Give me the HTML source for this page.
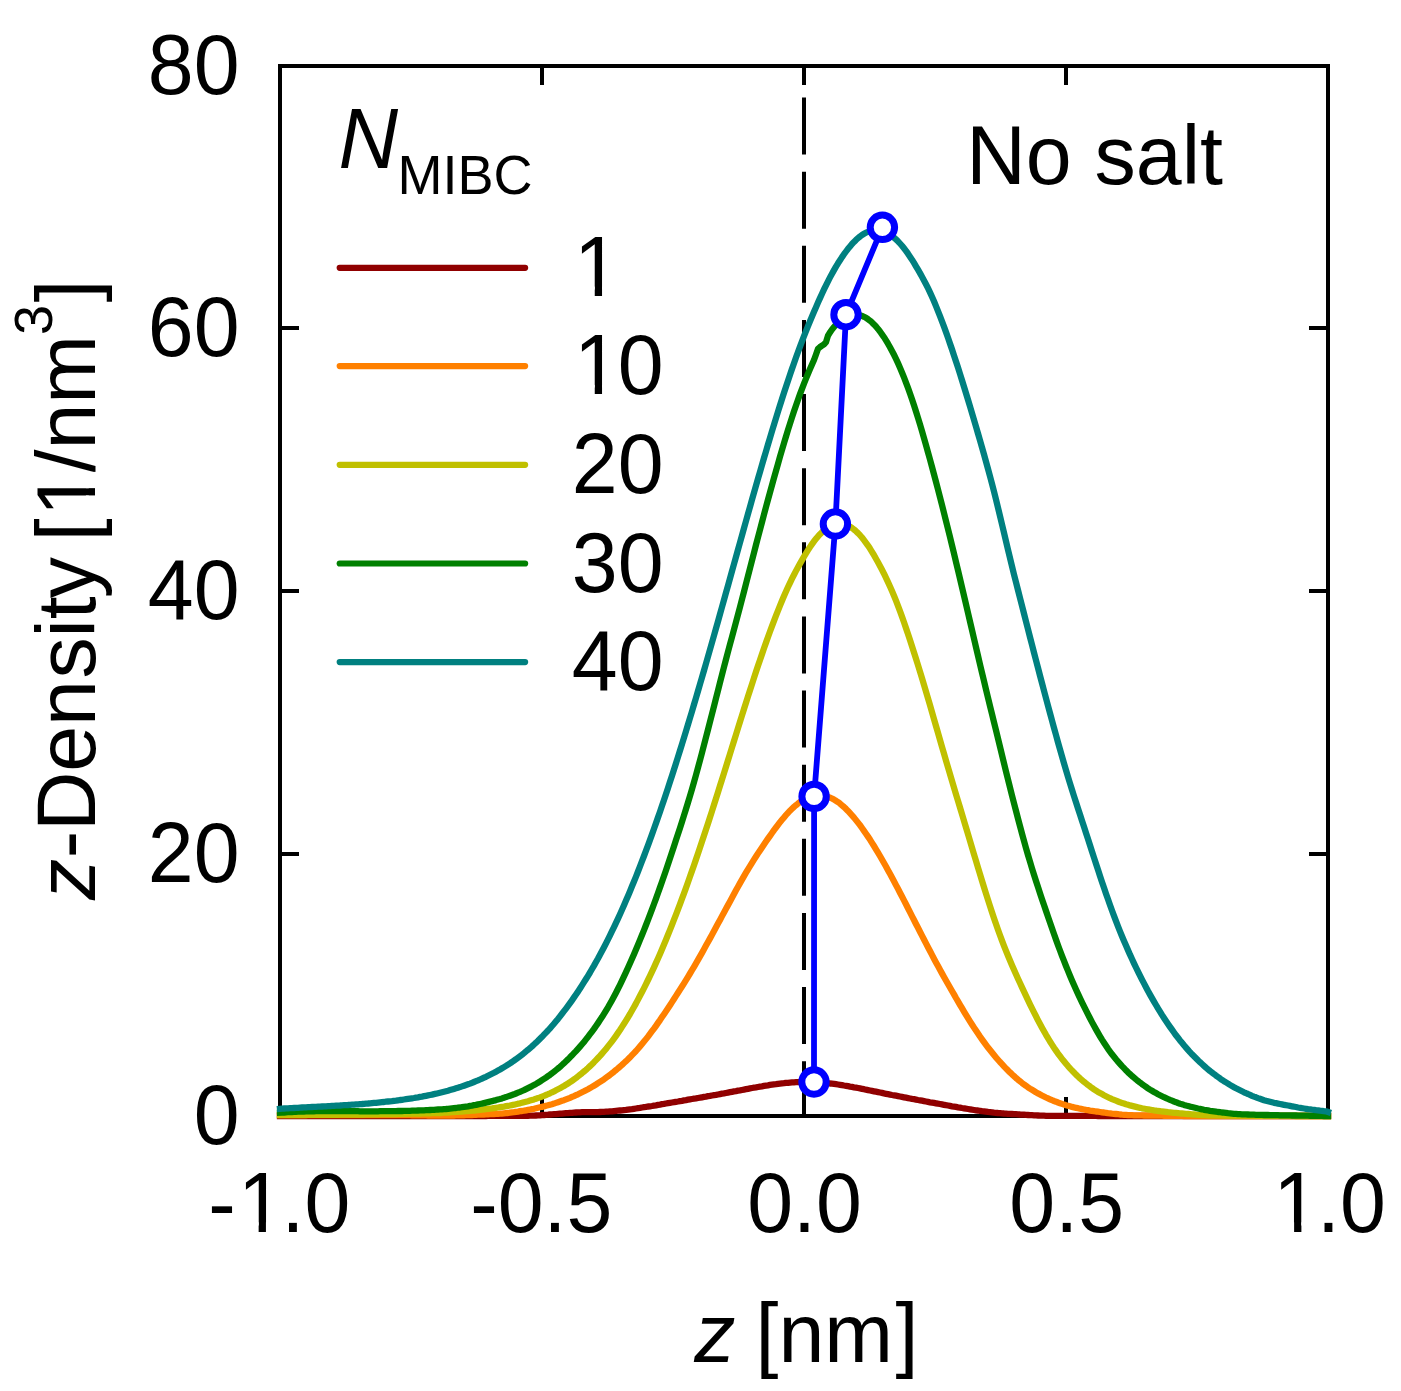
<!DOCTYPE html>
<html><head><meta charset="utf-8"><title>z-Density</title>
<style>
html,body{margin:0;padding:0;background:#fff;}
svg{display:block;}
text{font-family:"Liberation Sans",sans-serif;font-size:82.5px;fill:#000;font-kerning:none;}
.i{font-style:italic;}
.s{font-size:54px;}
</style></head><body>
<svg width="1401" height="1391" viewBox="0 0 1401 1391">
<rect width="1401" height="1391" fill="#fff"/>

<g stroke="#000" stroke-width="4" fill="none" stroke-linecap="butt">
<rect x="280" y="66" width="1048" height="1050"/>
<line x1="542" y1="66" x2="542" y2="85"/>
<line x1="542" y1="1116" x2="542" y2="1097"/>
<line x1="804" y1="66" x2="804" y2="85"/>
<line x1="804" y1="1116" x2="804" y2="1097"/>
<line x1="1066" y1="66" x2="1066" y2="85"/>
<line x1="1066" y1="1116" x2="1066" y2="1097"/>
<line x1="280" y1="328" x2="299" y2="328"/>
<line x1="1328" y1="328" x2="1309" y2="328"/>
<line x1="280" y1="591" x2="299" y2="591"/>
<line x1="1328" y1="591" x2="1309" y2="591"/>
<line x1="280" y1="854" x2="299" y2="854"/>
<line x1="1328" y1="854" x2="1309" y2="854"/>
<line x1="804" y1="97.5" x2="804" y2="1116" stroke-dasharray="57 17.13"/>
</g>
<g fill="none" stroke-width="6.3" stroke-linejoin="round" stroke-linecap="square">
<path stroke="#900000" d="M280.0 1116.0 L282.0 1116.0 L284.0 1116.0 L286.0 1116.0 L288.0 1116.0 L290.0 1116.0 L292.0 1116.0 L294.0 1116.0 L296.0 1116.0 L298.0 1116.0 L300.0 1116.0 L302.0 1116.0 L304.0 1116.0 L306.0 1116.0 L308.0 1116.0 L310.0 1116.0 L312.0 1116.0 L314.0 1116.0 L316.0 1116.0 L318.0 1116.0 L320.0 1116.0 L322.0 1116.0 L324.0 1116.0 L326.0 1116.0 L328.0 1116.0 L330.0 1116.0 L332.0 1116.0 L334.0 1116.0 L336.0 1116.0 L338.0 1116.0 L340.0 1116.0 L342.0 1116.0 L344.0 1116.0 L346.0 1116.0 L348.0 1116.0 L350.0 1116.0 L352.0 1116.0 L354.0 1116.0 L356.0 1116.0 L358.0 1116.0 L360.0 1116.0 L362.0 1116.0 L364.0 1116.0 L366.0 1116.0 L368.0 1116.0 L370.0 1116.0 L372.0 1116.0 L374.0 1116.0 L376.0 1116.0 L378.0 1116.0 L380.0 1116.0 L382.0 1116.0 L384.0 1116.0 L386.0 1116.0 L388.0 1116.0 L390.0 1116.0 L392.0 1116.0 L394.0 1116.0 L396.0 1116.0 L398.0 1116.0 L400.0 1116.0 L402.0 1116.0 L404.0 1116.0 L406.0 1116.0 L408.0 1116.0 L410.0 1116.0 L412.0 1116.0 L414.0 1116.0 L416.0 1116.0 L418.0 1116.0 L420.0 1116.0 L422.0 1116.0 L424.0 1116.0 L426.0 1116.0 L428.0 1116.0 L430.0 1116.0 L432.0 1116.0 L434.0 1116.0 L436.0 1116.0 L438.0 1116.0 L440.0 1116.0 L442.0 1116.0 L444.0 1116.0 L446.0 1116.0 L448.0 1116.0 L450.0 1116.0 L452.0 1116.0 L454.0 1116.0 L456.0 1116.0 L458.0 1116.0 L460.0 1116.0 L462.0 1116.0 L464.0 1116.0 L466.0 1116.0 L468.0 1116.0 L470.0 1116.0 L472.0 1116.0 L474.0 1116.0 L476.0 1116.0 L478.0 1116.0 L480.0 1116.0 L482.0 1116.0 L484.0 1116.0 L486.0 1116.0 L488.0 1115.9 L490.0 1115.9 L492.0 1115.9 L494.0 1115.9 L496.0 1115.9 L498.0 1115.9 L500.0 1115.9 L502.0 1115.9 L504.0 1115.9 L506.0 1115.9 L508.0 1115.9 L510.0 1115.9 L512.0 1115.9 L514.0 1115.9 L516.0 1115.8 L518.0 1115.8 L520.0 1115.8 L522.0 1115.8 L524.0 1115.8 L526.0 1115.8 L528.0 1115.8 L530.0 1115.7 L532.0 1115.7 L534.0 1115.6 L536.0 1115.5 L538.0 1115.4 L540.0 1115.3 L542.0 1115.1 L544.0 1115.0 L546.0 1114.8 L548.0 1114.7 L550.0 1114.5 L552.0 1114.3 L554.0 1114.2 L556.0 1114.1 L558.0 1113.9 L560.0 1113.7 L562.0 1113.6 L564.0 1113.4 L566.0 1113.2 L568.0 1113.1 L570.0 1112.9 L572.0 1112.8 L574.0 1112.6 L576.0 1112.5 L578.0 1112.4 L580.0 1112.3 L582.0 1112.2 L584.0 1112.2 L586.0 1112.1 L588.0 1112.1 L590.0 1112.1 L592.0 1112.1 L594.0 1112.1 L596.0 1112.1 L598.0 1112.1 L600.0 1112.0 L602.0 1111.9 L604.0 1111.8 L606.0 1111.7 L608.0 1111.6 L610.0 1111.4 L612.0 1111.3 L614.0 1111.1 L616.0 1110.9 L618.0 1110.7 L620.0 1110.5 L622.0 1110.3 L624.0 1110.1 L626.0 1109.9 L628.0 1109.6 L630.0 1109.3 L632.0 1109.1 L634.0 1108.8 L636.0 1108.5 L638.0 1108.2 L640.0 1107.9 L642.0 1107.5 L644.0 1107.2 L646.0 1106.9 L648.0 1106.5 L650.0 1106.3 L652.0 1106.0 L654.0 1105.6 L656.0 1105.3 L658.0 1104.9 L660.0 1104.6 L662.0 1104.2 L664.0 1103.9 L666.0 1103.5 L668.0 1103.1 L670.0 1102.8 L672.0 1102.5 L674.0 1102.2 L676.0 1101.8 L678.0 1101.5 L680.0 1101.1 L682.0 1100.8 L684.0 1100.4 L686.0 1100.1 L688.0 1099.7 L690.0 1099.3 L692.0 1099.0 L694.0 1098.7 L696.0 1098.4 L698.0 1098.0 L700.0 1097.7 L702.0 1097.3 L704.0 1096.9 L706.0 1096.6 L708.0 1096.2 L710.0 1095.9 L712.0 1095.5 L714.0 1095.2 L716.0 1094.9 L718.0 1094.5 L720.0 1094.1 L722.0 1093.7 L724.0 1093.4 L726.0 1093.0 L728.0 1092.6 L730.0 1092.2 L732.0 1091.8 L734.0 1091.4 L736.0 1091.1 L738.0 1090.7 L740.0 1090.4 L742.0 1090.0 L744.0 1089.6 L746.0 1089.2 L748.0 1088.8 L750.0 1088.4 L752.0 1088.0 L754.0 1087.7 L756.0 1087.4 L758.0 1087.0 L760.0 1086.6 L762.0 1086.3 L764.0 1085.9 L766.0 1085.6 L768.0 1085.3 L770.0 1084.9 L772.0 1084.6 L774.0 1084.3 L776.0 1084.1 L778.0 1083.8 L780.0 1083.6 L782.0 1083.4 L784.0 1083.2 L786.0 1082.9 L788.0 1082.8 L790.0 1082.6 L792.0 1082.4 L794.0 1082.3 L796.0 1082.2 L798.0 1082.1 L800.0 1082.0 L802.0 1082.0 L804.0 1081.9 L806.0 1081.9 L808.0 1081.9 L810.0 1082.0 L812.0 1082.0 L814.0 1082.1 L816.0 1082.2 L818.0 1082.3 L820.0 1082.5 L822.0 1082.6 L824.0 1082.8 L826.0 1083.0 L828.0 1083.2 L830.0 1083.5 L832.0 1083.7 L834.0 1083.9 L836.0 1084.2 L838.0 1084.5 L840.0 1084.8 L842.0 1085.1 L844.0 1085.5 L846.0 1085.8 L848.0 1086.2 L850.0 1086.6 L852.0 1086.9 L854.0 1087.3 L856.0 1087.6 L858.0 1088.0 L860.0 1088.4 L862.0 1088.8 L864.0 1089.2 L866.0 1089.7 L868.0 1090.1 L870.0 1090.5 L872.0 1090.9 L874.0 1091.3 L876.0 1091.7 L878.0 1092.1 L880.0 1092.5 L882.0 1092.9 L884.0 1093.4 L886.0 1093.8 L888.0 1094.2 L890.0 1094.6 L892.0 1095.0 L894.0 1095.3 L896.0 1095.7 L898.0 1096.1 L900.0 1096.5 L902.0 1096.9 L904.0 1097.3 L906.0 1097.7 L908.0 1098.1 L910.0 1098.5 L912.0 1098.9 L914.0 1099.2 L916.0 1099.6 L918.0 1100.0 L920.0 1100.3 L922.0 1100.7 L924.0 1101.1 L926.0 1101.5 L928.0 1101.9 L930.0 1102.3 L932.0 1102.6 L934.0 1102.9 L936.0 1103.3 L938.0 1103.7 L940.0 1104.0 L942.0 1104.4 L944.0 1104.8 L946.0 1105.2 L948.0 1105.5 L950.0 1105.9 L952.0 1106.3 L954.0 1106.6 L956.0 1106.9 L958.0 1107.3 L960.0 1107.6 L962.0 1108.0 L964.0 1108.3 L966.0 1108.7 L968.0 1109.0 L970.0 1109.3 L972.0 1109.7 L974.0 1110.0 L976.0 1110.3 L978.0 1110.5 L980.0 1110.8 L982.0 1111.1 L984.0 1111.3 L986.0 1111.6 L988.0 1111.9 L990.0 1112.1 L992.0 1112.3 L994.0 1112.6 L996.0 1112.8 L998.0 1113.0 L1000.0 1113.1 L1002.0 1113.3 L1004.0 1113.5 L1006.0 1113.6 L1008.0 1113.8 L1010.0 1113.9 L1012.0 1114.0 L1014.0 1114.1 L1016.0 1114.2 L1018.0 1114.3 L1020.0 1114.5 L1022.0 1114.6 L1024.0 1114.7 L1026.0 1114.9 L1028.0 1115.0 L1030.0 1115.1 L1032.0 1115.2 L1034.0 1115.3 L1036.0 1115.4 L1038.0 1115.5 L1040.0 1115.6 L1042.0 1115.6 L1044.0 1115.7 L1046.0 1115.8 L1048.0 1115.8 L1050.0 1115.8 L1052.0 1115.8 L1054.0 1115.8 L1056.0 1115.8 L1058.0 1115.8 L1060.0 1115.8 L1062.0 1115.8 L1064.0 1115.9 L1066.0 1115.9 L1068.0 1115.9 L1070.0 1115.9 L1072.0 1115.9 L1074.0 1115.9 L1076.0 1115.9 L1078.0 1115.9 L1080.0 1115.9 L1082.0 1115.9 L1084.0 1115.9 L1086.0 1115.9 L1088.0 1115.9 L1090.0 1115.9 L1092.0 1115.9 L1094.0 1115.9 L1096.0 1115.9 L1098.0 1116.0 L1100.0 1116.0 L1102.0 1116.0 L1104.0 1116.0 L1106.0 1116.0 L1108.0 1116.0 L1110.0 1116.0 L1112.0 1116.0 L1114.0 1116.0 L1116.0 1116.0 L1118.0 1116.0 L1120.0 1116.0 L1122.0 1116.0 L1124.0 1116.0 L1126.0 1116.0 L1128.0 1116.0 L1130.0 1116.0 L1132.0 1116.0 L1134.0 1116.0 L1136.0 1116.0 L1138.0 1116.0 L1140.0 1116.0 L1142.0 1116.0 L1144.0 1116.0 L1146.0 1116.0 L1148.0 1116.0 L1150.0 1116.0 L1152.0 1116.0 L1154.0 1116.0 L1156.0 1116.0 L1158.0 1116.0 L1160.0 1116.0 L1162.0 1116.0 L1164.0 1116.0 L1166.0 1116.0 L1168.0 1116.0 L1170.0 1116.0 L1172.0 1116.0 L1174.0 1116.0 L1176.0 1116.0 L1178.0 1116.0 L1180.0 1116.0 L1182.0 1116.0 L1184.0 1116.0 L1186.0 1116.0 L1188.0 1116.0 L1190.0 1116.0 L1192.0 1116.0 L1194.0 1116.0 L1196.0 1116.0 L1198.0 1116.0 L1200.0 1116.0 L1202.0 1116.0 L1204.0 1116.0 L1206.0 1116.0 L1208.0 1116.0 L1210.0 1116.0 L1212.0 1116.0 L1214.0 1116.0 L1216.0 1116.0 L1218.0 1116.0 L1220.0 1116.0 L1222.0 1116.0 L1224.0 1116.0 L1226.0 1116.0 L1228.0 1116.0 L1230.0 1116.0 L1232.0 1116.0 L1234.0 1116.0 L1236.0 1116.0 L1238.0 1116.0 L1240.0 1116.0 L1242.0 1116.0 L1244.0 1116.0 L1246.0 1116.0 L1248.0 1116.0 L1250.0 1116.0 L1252.0 1116.0 L1254.0 1116.0 L1256.0 1116.0 L1258.0 1116.0 L1260.0 1116.0 L1262.0 1116.0 L1264.0 1116.0 L1266.0 1116.0 L1268.0 1116.0 L1270.0 1116.0 L1272.0 1116.0 L1274.0 1116.0 L1276.0 1116.0 L1278.0 1116.0 L1280.0 1116.0 L1282.0 1116.0 L1284.0 1116.0 L1286.0 1116.0 L1288.0 1116.0 L1290.0 1116.0 L1292.0 1116.0 L1294.0 1116.0 L1296.0 1116.0 L1298.0 1116.0 L1300.0 1116.0 L1302.0 1116.0 L1304.0 1116.0 L1306.0 1116.0 L1308.0 1116.0 L1310.0 1116.0 L1312.0 1116.0 L1314.0 1116.0 L1316.0 1116.0 L1318.0 1116.0 L1320.0 1116.0 L1322.0 1116.0 L1324.0 1116.0 L1326.0 1116.0 L1328.0 1116.0"/>
<path stroke="#ff8000" d="M280.0 1115.2 L282.0 1115.2 L284.0 1115.2 L286.0 1115.2 L288.0 1115.2 L290.0 1115.2 L292.0 1115.2 L294.0 1115.2 L296.0 1115.2 L298.0 1115.2 L300.0 1115.2 L302.0 1115.2 L304.0 1115.2 L306.0 1115.2 L308.0 1115.2 L310.0 1115.2 L312.0 1115.2 L314.0 1115.2 L316.0 1115.2 L318.0 1115.2 L320.0 1115.2 L322.0 1115.2 L324.0 1115.2 L326.0 1115.2 L328.0 1115.2 L330.0 1115.2 L332.0 1115.2 L334.0 1115.2 L336.0 1115.2 L338.0 1115.2 L340.0 1115.2 L342.0 1115.2 L344.0 1115.2 L346.0 1115.2 L348.0 1115.2 L350.0 1115.2 L352.0 1115.2 L354.0 1115.2 L356.0 1115.2 L358.0 1115.2 L360.0 1115.2 L362.0 1115.2 L364.0 1115.2 L366.0 1115.2 L368.0 1115.2 L370.0 1115.2 L372.0 1115.2 L374.0 1115.2 L376.0 1115.2 L378.0 1115.2 L380.0 1115.2 L382.0 1115.2 L384.0 1115.2 L386.0 1115.2 L388.0 1115.2 L390.0 1115.2 L392.0 1115.2 L394.0 1115.2 L396.0 1115.2 L398.0 1115.2 L400.0 1115.2 L402.0 1115.2 L404.0 1115.2 L406.0 1115.2 L408.0 1115.2 L410.0 1115.2 L412.0 1115.3 L414.0 1115.3 L416.0 1115.3 L418.0 1115.3 L420.0 1115.4 L422.0 1115.4 L424.0 1115.4 L426.0 1115.4 L428.0 1115.5 L430.0 1115.5 L432.0 1115.4 L434.0 1115.5 L436.0 1115.5 L438.0 1115.6 L440.0 1115.5 L442.0 1115.5 L444.0 1115.6 L446.0 1115.5 L448.0 1115.5 L450.0 1115.5 L452.0 1115.5 L454.0 1115.5 L456.0 1115.4 L458.0 1115.4 L460.0 1115.4 L462.0 1115.3 L464.0 1115.3 L466.0 1115.2 L468.0 1115.1 L470.0 1115.1 L472.0 1115.0 L474.0 1114.9 L476.0 1114.8 L478.0 1114.7 L480.0 1114.7 L482.0 1114.6 L484.0 1114.5 L486.0 1114.4 L488.0 1114.3 L490.0 1114.2 L492.0 1114.1 L494.0 1114.0 L496.0 1113.9 L498.0 1113.8 L500.0 1113.7 L502.0 1113.6 L504.0 1113.4 L506.0 1113.2 L508.0 1113.0 L510.0 1112.7 L512.0 1112.4 L514.0 1112.2 L516.0 1111.9 L518.0 1111.6 L520.0 1111.2 L522.0 1111.0 L524.0 1110.7 L526.0 1110.3 L528.0 1109.9 L530.0 1109.5 L532.0 1109.1 L534.0 1108.8 L536.0 1108.3 L538.0 1107.8 L540.0 1107.3 L542.0 1106.8 L544.0 1106.4 L546.0 1105.8 L548.0 1105.3 L550.0 1104.7 L552.0 1104.2 L554.0 1103.6 L556.0 1102.9 L558.0 1102.2 L560.0 1101.5 L562.0 1100.8 L564.0 1100.2 L566.0 1099.4 L568.0 1098.6 L570.0 1097.8 L572.0 1096.9 L574.0 1096.1 L576.0 1095.2 L578.0 1094.3 L580.0 1093.3 L582.0 1092.3 L584.0 1091.3 L586.0 1090.2 L588.0 1089.2 L590.0 1088.1 L592.0 1086.9 L594.0 1085.7 L596.0 1084.5 L598.0 1083.2 L600.0 1081.9 L602.0 1080.6 L604.0 1079.3 L606.0 1077.8 L608.0 1076.3 L610.0 1074.9 L612.0 1073.3 L614.0 1071.7 L616.0 1070.0 L618.0 1068.4 L620.0 1066.6 L622.0 1064.9 L624.0 1063.0 L626.0 1061.2 L628.0 1059.3 L630.0 1057.3 L632.0 1055.2 L634.0 1053.1 L636.0 1051.0 L638.0 1048.7 L640.0 1046.4 L642.0 1044.0 L644.0 1041.6 L646.0 1039.1 L648.0 1036.6 L650.0 1033.9 L652.0 1031.2 L654.0 1028.6 L656.0 1025.8 L658.0 1022.9 L660.0 1020.1 L662.0 1017.1 L664.0 1014.2 L666.0 1011.3 L668.0 1008.3 L670.0 1005.2 L672.0 1002.1 L674.0 999.0 L676.0 995.9 L678.0 992.8 L680.0 989.6 L682.0 986.5 L684.0 983.3 L686.0 980.1 L688.0 976.8 L690.0 973.5 L692.0 970.2 L694.0 966.8 L696.0 963.4 L698.0 959.9 L700.0 956.4 L702.0 952.9 L704.0 949.3 L706.0 945.6 L708.0 942.0 L710.0 938.4 L712.0 934.8 L714.0 931.1 L716.0 927.3 L718.0 923.6 L720.0 919.9 L722.0 916.1 L724.0 912.4 L726.0 908.7 L728.0 905.1 L730.0 901.4 L732.0 897.7 L734.0 894.0 L736.0 890.3 L738.0 886.7 L740.0 883.1 L742.0 879.6 L744.0 876.1 L746.0 872.7 L748.0 869.3 L750.0 866.1 L752.0 862.8 L754.0 859.6 L756.0 856.5 L758.0 853.4 L760.0 850.4 L762.0 847.4 L764.0 844.4 L766.0 841.5 L768.0 838.6 L770.0 835.8 L772.0 833.0 L774.0 830.1 L776.0 827.5 L778.0 824.8 L780.0 822.2 L782.0 819.8 L784.0 817.4 L786.0 815.0 L788.0 812.8 L790.0 810.7 L792.0 808.8 L794.0 806.9 L796.0 805.2 L798.0 803.6 L800.0 802.1 L802.0 800.7 L804.0 799.5 L806.0 798.5 L808.0 797.5 L810.0 796.8 L812.0 796.2 L814.0 795.7 L816.0 795.4 L818.0 795.2 L820.0 795.2 L822.0 795.4 L824.0 795.7 L826.0 796.1 L828.0 796.8 L830.0 797.6 L832.0 798.5 L834.0 799.6 L836.0 800.8 L838.0 802.1 L840.0 803.6 L842.0 805.3 L844.0 807.0 L846.0 808.9 L848.0 810.9 L850.0 813.1 L852.0 815.3 L854.0 817.6 L856.0 820.1 L858.0 822.6 L860.0 825.2 L862.0 828.0 L864.0 830.8 L866.0 833.7 L868.0 836.6 L870.0 839.6 L872.0 842.8 L874.0 846.0 L876.0 849.3 L878.0 852.6 L880.0 856.0 L882.0 859.5 L884.0 863.0 L886.0 866.5 L888.0 870.2 L890.0 873.8 L892.0 877.5 L894.0 881.2 L896.0 885.1 L898.0 888.8 L900.0 892.7 L902.0 896.5 L904.0 900.4 L906.0 904.3 L908.0 908.2 L910.0 912.2 L912.0 916.1 L914.0 920.0 L916.0 924.0 L918.0 927.8 L920.0 931.7 L922.0 935.6 L924.0 939.5 L926.0 943.4 L928.0 947.2 L930.0 951.0 L932.0 954.9 L934.0 958.7 L936.0 962.4 L938.0 966.1 L940.0 969.8 L942.0 973.4 L944.0 977.0 L946.0 980.5 L948.0 984.0 L950.0 987.5 L952.0 991.0 L954.0 994.4 L956.0 998.0 L958.0 1001.4 L960.0 1004.8 L962.0 1008.2 L964.0 1011.6 L966.0 1014.9 L968.0 1018.2 L970.0 1021.4 L972.0 1024.5 L974.0 1027.6 L976.0 1030.6 L978.0 1033.5 L980.0 1036.5 L982.0 1039.3 L984.0 1042.1 L986.0 1044.8 L988.0 1047.5 L990.0 1050.0 L992.0 1052.5 L994.0 1055.0 L996.0 1057.4 L998.0 1059.7 L1000.0 1062.0 L1002.0 1064.1 L1004.0 1066.3 L1006.0 1068.5 L1008.0 1070.4 L1010.0 1072.4 L1012.0 1074.3 L1014.0 1076.1 L1016.0 1078.0 L1018.0 1079.7 L1020.0 1081.3 L1022.0 1082.9 L1024.0 1084.4 L1026.0 1085.8 L1028.0 1087.3 L1030.0 1088.6 L1032.0 1089.8 L1034.0 1091.0 L1036.0 1092.3 L1038.0 1093.4 L1040.0 1094.4 L1042.0 1095.5 L1044.0 1096.5 L1046.0 1097.5 L1048.0 1098.4 L1050.0 1099.3 L1052.0 1100.2 L1054.0 1101.0 L1056.0 1101.7 L1058.0 1102.5 L1060.0 1103.2 L1062.0 1103.9 L1064.0 1104.6 L1066.0 1105.2 L1068.0 1105.7 L1070.0 1106.3 L1072.0 1106.9 L1074.0 1107.4 L1076.0 1107.8 L1078.0 1108.2 L1080.0 1108.7 L1082.0 1109.1 L1084.0 1109.5 L1086.0 1109.9 L1088.0 1110.2 L1090.0 1110.6 L1092.0 1110.9 L1094.0 1111.2 L1096.0 1111.5 L1098.0 1111.7 L1100.0 1112.0 L1102.0 1112.3 L1104.0 1112.5 L1106.0 1112.8 L1108.0 1113.1 L1110.0 1113.3 L1112.0 1113.6 L1114.0 1113.8 L1116.0 1114.0 L1118.0 1114.2 L1120.0 1114.5 L1122.0 1114.7 L1124.0 1114.8 L1126.0 1114.9 L1128.0 1115.1 L1130.0 1115.1 L1132.0 1115.2 L1134.0 1115.3 L1136.0 1115.4 L1138.0 1115.4 L1140.0 1115.4 L1142.0 1115.4 L1144.0 1115.5 L1146.0 1115.5 L1148.0 1115.5 L1150.0 1115.6 L1152.0 1115.6 L1154.0 1115.6 L1156.0 1115.7 L1158.0 1115.7 L1160.0 1115.7 L1162.0 1115.7 L1164.0 1115.8 L1166.0 1115.8 L1168.0 1115.8 L1170.0 1115.8 L1172.0 1115.9 L1174.0 1115.9 L1176.0 1115.9 L1178.0 1115.9 L1180.0 1115.9 L1182.0 1115.9 L1184.0 1116.0 L1186.0 1116.0 L1188.0 1116.0 L1190.0 1116.0 L1192.0 1116.0 L1194.0 1116.0 L1196.0 1116.0 L1198.0 1116.0 L1200.0 1116.0 L1202.0 1116.0 L1204.0 1116.0 L1206.0 1116.0 L1208.0 1116.0 L1210.0 1116.0 L1212.0 1116.0 L1214.0 1116.0 L1216.0 1116.0 L1218.0 1116.0 L1220.0 1116.0 L1222.0 1116.0 L1224.0 1116.0 L1226.0 1116.0 L1228.0 1116.0 L1230.0 1116.0 L1232.0 1116.0 L1234.0 1116.0 L1236.0 1116.0 L1238.0 1116.0 L1240.0 1116.0 L1242.0 1116.0 L1244.0 1116.0 L1246.0 1116.0 L1248.0 1116.0 L1250.0 1116.0 L1252.0 1116.0 L1254.0 1116.0 L1256.0 1116.0 L1258.0 1116.0 L1260.0 1116.0 L1262.0 1116.0 L1264.0 1116.0 L1266.0 1116.0 L1268.0 1116.0 L1270.0 1116.0 L1272.0 1116.0 L1274.0 1116.0 L1276.0 1116.0 L1278.0 1116.0 L1280.0 1116.0 L1282.0 1116.0 L1284.0 1116.0 L1286.0 1116.0 L1288.0 1116.0 L1290.0 1116.0 L1292.0 1116.0 L1294.0 1116.0 L1296.0 1116.0 L1298.0 1116.0 L1300.0 1116.0 L1302.0 1116.0 L1304.0 1116.0 L1306.0 1116.0 L1308.0 1116.0 L1310.0 1116.0 L1312.0 1116.0 L1314.0 1116.0 L1316.0 1116.0 L1318.0 1116.0 L1320.0 1116.0 L1322.0 1116.0 L1324.0 1116.0 L1326.0 1116.0 L1328.0 1116.0"/>
<path stroke="#c0c000" d="M280.0 1115.0 L282.0 1115.0 L284.0 1115.0 L286.0 1115.0 L288.0 1115.0 L290.0 1115.0 L292.0 1115.0 L294.0 1115.0 L296.0 1115.0 L298.0 1115.0 L300.0 1115.0 L302.0 1115.0 L304.0 1115.0 L306.0 1115.0 L308.0 1114.9 L310.0 1114.9 L312.0 1114.9 L314.0 1114.9 L316.0 1114.9 L318.0 1114.9 L320.0 1114.9 L322.0 1114.9 L324.0 1114.9 L326.0 1114.8 L328.0 1114.8 L330.0 1114.8 L332.0 1114.8 L334.0 1114.8 L336.0 1114.8 L338.0 1114.8 L340.0 1114.7 L342.0 1114.7 L344.0 1114.7 L346.0 1114.7 L348.0 1114.7 L350.0 1114.6 L352.0 1114.6 L354.0 1114.6 L356.0 1114.6 L358.0 1114.5 L360.0 1114.5 L362.0 1114.5 L364.0 1114.5 L366.0 1114.4 L368.0 1114.4 L370.0 1114.4 L372.0 1114.4 L374.0 1114.3 L376.0 1114.3 L378.0 1114.3 L380.0 1114.2 L382.0 1114.2 L384.0 1114.2 L386.0 1114.1 L388.0 1114.1 L390.0 1114.1 L392.0 1114.0 L394.0 1114.0 L396.0 1114.0 L398.0 1113.9 L400.0 1113.9 L402.0 1113.9 L404.0 1113.8 L406.0 1113.8 L408.0 1113.7 L410.0 1113.7 L412.0 1113.7 L414.0 1113.6 L416.0 1113.6 L418.0 1113.5 L420.0 1113.5 L422.0 1113.4 L424.0 1113.4 L426.0 1113.4 L428.0 1113.3 L430.0 1113.3 L432.0 1113.2 L434.0 1113.2 L436.0 1113.1 L438.0 1113.1 L440.0 1113.0 L442.0 1112.8 L444.0 1112.7 L446.0 1112.6 L448.0 1112.5 L450.0 1112.4 L452.0 1112.2 L454.0 1112.1 L456.0 1111.9 L458.0 1111.8 L460.0 1111.7 L462.0 1111.5 L464.0 1111.4 L466.0 1111.2 L468.0 1111.0 L470.0 1110.8 L472.0 1110.7 L474.0 1110.5 L476.0 1110.3 L478.0 1110.1 L480.0 1109.9 L482.0 1109.7 L484.0 1109.4 L486.0 1109.1 L488.0 1108.9 L490.0 1108.6 L492.0 1108.4 L494.0 1108.1 L496.0 1107.8 L498.0 1107.5 L500.0 1107.2 L502.0 1106.9 L504.0 1106.6 L506.0 1106.2 L508.0 1105.8 L510.0 1105.5 L512.0 1105.1 L514.0 1104.7 L516.0 1104.2 L518.0 1103.7 L520.0 1103.3 L522.0 1102.8 L524.0 1102.2 L526.0 1101.7 L528.0 1101.2 L530.0 1100.6 L532.0 1100.0 L534.0 1099.4 L536.0 1098.7 L538.0 1098.1 L540.0 1097.4 L542.0 1096.6 L544.0 1095.8 L546.0 1095.0 L548.0 1094.2 L550.0 1093.3 L552.0 1092.3 L554.0 1091.4 L556.0 1090.3 L558.0 1089.3 L560.0 1088.3 L562.0 1087.1 L564.0 1086.0 L566.0 1084.7 L568.0 1083.5 L570.0 1082.2 L572.0 1080.8 L574.0 1079.4 L576.0 1078.0 L578.0 1076.4 L580.0 1074.8 L582.0 1073.2 L584.0 1071.5 L586.0 1069.8 L588.0 1068.0 L590.0 1066.1 L592.0 1064.2 L594.0 1062.2 L596.0 1060.1 L598.0 1058.0 L600.0 1055.9 L602.0 1053.6 L604.0 1051.3 L606.0 1048.9 L608.0 1046.4 L610.0 1043.9 L612.0 1041.3 L614.0 1038.6 L616.0 1035.8 L618.0 1032.9 L620.0 1030.0 L622.0 1026.9 L624.0 1023.8 L626.0 1020.6 L628.0 1017.3 L630.0 1014.0 L632.0 1010.5 L634.0 1007.0 L636.0 1003.4 L638.0 999.6 L640.0 995.8 L642.0 992.0 L644.0 988.1 L646.0 984.1 L648.0 980.0 L650.0 975.9 L652.0 971.6 L654.0 967.3 L656.0 962.9 L658.0 958.5 L660.0 953.9 L662.0 949.2 L664.0 944.5 L666.0 939.7 L668.0 934.8 L670.0 929.9 L672.0 924.8 L674.0 919.7 L676.0 914.6 L678.0 909.4 L680.0 904.1 L682.0 898.7 L684.0 893.3 L686.0 887.8 L688.0 882.2 L690.0 876.5 L692.0 870.9 L694.0 865.2 L696.0 859.4 L698.0 853.5 L700.0 847.6 L702.0 841.6 L704.0 835.5 L706.0 829.5 L708.0 823.4 L710.0 817.3 L712.0 811.1 L714.0 804.8 L716.0 798.5 L718.0 792.2 L720.0 785.8 L722.0 779.5 L724.0 773.1 L726.0 766.7 L728.0 760.3 L730.0 753.9 L732.0 747.4 L734.0 741.0 L736.0 734.6 L738.0 728.1 L740.0 721.8 L742.0 715.4 L744.0 709.0 L746.0 702.7 L748.0 696.4 L750.0 690.3 L752.0 684.1 L754.0 677.9 L756.0 671.8 L758.0 665.8 L760.0 659.9 L762.0 654.1 L764.0 648.3 L766.0 642.6 L768.0 637.0 L770.0 631.5 L772.0 626.1 L774.0 620.8 L776.0 615.6 L778.0 610.6 L780.0 605.6 L782.0 600.7 L784.0 596.0 L786.0 591.5 L788.0 587.0 L790.0 582.8 L792.0 578.7 L794.0 574.8 L796.0 570.9 L798.0 567.2 L800.0 563.6 L802.0 560.1 L804.0 556.6 L806.0 553.3 L808.0 550.1 L810.0 547.0 L812.0 544.1 L814.0 541.3 L816.0 538.8 L818.0 536.4 L820.0 534.2 L822.0 532.2 L824.0 530.4 L826.0 528.8 L828.0 527.4 L830.0 526.2 L832.0 525.2 L834.0 524.5 L836.0 524.0 L838.0 523.6 L840.0 523.6 L842.0 523.7 L844.0 524.1 L846.0 524.7 L848.0 525.6 L850.0 526.7 L852.0 528.0 L854.0 529.5 L856.0 531.2 L858.0 533.1 L860.0 535.2 L862.0 537.5 L864.0 540.1 L866.0 542.8 L868.0 545.6 L870.0 548.6 L872.0 551.8 L874.0 555.2 L876.0 558.7 L878.0 562.3 L880.0 566.0 L882.0 569.8 L884.0 573.7 L886.0 577.9 L888.0 582.1 L890.0 586.5 L892.0 591.0 L894.0 595.7 L896.0 600.7 L898.0 605.9 L900.0 611.2 L902.0 616.7 L904.0 622.3 L906.0 628.1 L908.0 634.0 L910.0 640.1 L912.0 646.2 L914.0 652.5 L916.0 658.8 L918.0 665.1 L920.0 671.6 L922.0 678.2 L924.0 684.9 L926.0 691.6 L928.0 698.4 L930.0 705.2 L932.0 712.1 L934.0 719.1 L936.0 726.0 L938.0 732.9 L940.0 739.9 L942.0 746.8 L944.0 753.7 L946.0 760.6 L948.0 767.4 L950.0 774.2 L952.0 780.9 L954.0 787.6 L956.0 794.3 L958.0 800.9 L960.0 807.5 L962.0 814.2 L964.0 820.9 L966.0 827.5 L968.0 834.2 L970.0 840.8 L972.0 847.6 L974.0 854.3 L976.0 860.9 L978.0 867.6 L980.0 874.2 L982.0 880.7 L984.0 887.2 L986.0 893.6 L988.0 899.9 L990.0 906.1 L992.0 912.2 L994.0 918.2 L996.0 924.0 L998.0 929.7 L1000.0 935.3 L1002.0 940.7 L1004.0 945.9 L1006.0 950.9 L1008.0 955.7 L1010.0 960.5 L1012.0 965.2 L1014.0 969.8 L1016.0 974.3 L1018.0 978.7 L1020.0 983.0 L1022.0 987.4 L1024.0 991.6 L1026.0 995.9 L1028.0 1000.1 L1030.0 1004.3 L1032.0 1008.4 L1034.0 1012.4 L1036.0 1016.3 L1038.0 1020.3 L1040.0 1024.0 L1042.0 1027.7 L1044.0 1031.3 L1046.0 1034.8 L1048.0 1038.1 L1050.0 1041.5 L1052.0 1044.6 L1054.0 1047.7 L1056.0 1050.6 L1058.0 1053.5 L1060.0 1056.2 L1062.0 1058.8 L1064.0 1061.3 L1066.0 1063.7 L1068.0 1066.1 L1070.0 1068.3 L1072.0 1070.5 L1074.0 1072.5 L1076.0 1074.6 L1078.0 1076.5 L1080.0 1078.4 L1082.0 1080.1 L1084.0 1081.8 L1086.0 1083.4 L1088.0 1085.0 L1090.0 1086.4 L1092.0 1087.9 L1094.0 1089.3 L1096.0 1090.6 L1098.0 1091.9 L1100.0 1093.0 L1102.0 1094.1 L1104.0 1095.2 L1106.0 1096.2 L1108.0 1097.2 L1110.0 1098.2 L1112.0 1099.1 L1114.0 1099.9 L1116.0 1100.7 L1118.0 1101.5 L1120.0 1102.3 L1122.0 1102.9 L1124.0 1103.5 L1126.0 1104.2 L1128.0 1104.8 L1130.0 1105.4 L1132.0 1105.9 L1134.0 1106.4 L1136.0 1106.9 L1138.0 1107.4 L1140.0 1107.8 L1142.0 1108.3 L1144.0 1108.7 L1146.0 1109.0 L1148.0 1109.3 L1150.0 1109.7 L1152.0 1110.0 L1154.0 1110.4 L1156.0 1110.7 L1158.0 1111.0 L1160.0 1111.2 L1162.0 1111.5 L1164.0 1111.7 L1166.0 1111.9 L1168.0 1112.2 L1170.0 1112.4 L1172.0 1112.6 L1174.0 1112.8 L1176.0 1112.9 L1178.0 1113.1 L1180.0 1113.3 L1182.0 1113.5 L1184.0 1113.7 L1186.0 1113.9 L1188.0 1114.0 L1190.0 1114.2 L1192.0 1114.4 L1194.0 1114.5 L1196.0 1114.7 L1198.0 1114.8 L1200.0 1114.9 L1202.0 1115.0 L1204.0 1115.1 L1206.0 1115.2 L1208.0 1115.3 L1210.0 1115.3 L1212.0 1115.3 L1214.0 1115.3 L1216.0 1115.4 L1218.0 1115.4 L1220.0 1115.4 L1222.0 1115.4 L1224.0 1115.5 L1226.0 1115.5 L1228.0 1115.5 L1230.0 1115.5 L1232.0 1115.5 L1234.0 1115.6 L1236.0 1115.6 L1238.0 1115.6 L1240.0 1115.6 L1242.0 1115.6 L1244.0 1115.7 L1246.0 1115.7 L1248.0 1115.7 L1250.0 1115.7 L1252.0 1115.7 L1254.0 1115.7 L1256.0 1115.8 L1258.0 1115.8 L1260.0 1115.8 L1262.0 1115.8 L1264.0 1115.8 L1266.0 1115.8 L1268.0 1115.8 L1270.0 1115.8 L1272.0 1115.9 L1274.0 1115.9 L1276.0 1115.9 L1278.0 1115.9 L1280.0 1115.9 L1282.0 1115.9 L1284.0 1115.9 L1286.0 1115.9 L1288.0 1115.9 L1290.0 1115.9 L1292.0 1115.9 L1294.0 1115.9 L1296.0 1116.0 L1298.0 1116.0 L1300.0 1116.0 L1302.0 1116.0 L1304.0 1116.0 L1306.0 1116.0 L1308.0 1116.0 L1310.0 1116.0 L1312.0 1116.0 L1314.0 1116.0 L1316.0 1116.0 L1318.0 1116.0 L1320.0 1116.0 L1322.0 1116.0 L1324.0 1116.0 L1326.0 1116.0 L1328.0 1116.0"/>
<path stroke="#008000" d="M280.0 1112.7 L282.0 1112.6 L284.0 1112.5 L286.0 1112.3 L288.0 1112.2 L290.0 1112.1 L292.0 1112.0 L294.0 1111.9 L296.0 1111.8 L298.0 1111.7 L300.0 1111.6 L302.0 1111.6 L304.0 1111.5 L306.0 1111.4 L308.0 1111.4 L310.0 1111.4 L312.0 1111.3 L314.0 1111.3 L316.0 1111.2 L318.0 1111.2 L320.0 1111.2 L322.0 1111.2 L324.0 1111.2 L326.0 1111.2 L328.0 1111.2 L330.0 1111.2 L332.0 1111.2 L334.0 1111.2 L336.0 1111.2 L338.0 1111.2 L340.0 1111.2 L342.0 1111.2 L344.0 1111.2 L346.0 1111.2 L348.0 1111.2 L350.0 1111.2 L352.0 1111.2 L354.0 1111.2 L356.0 1111.2 L358.0 1111.2 L360.0 1111.3 L362.0 1111.3 L364.0 1111.3 L366.0 1111.3 L368.0 1111.3 L370.0 1111.3 L372.0 1111.3 L374.0 1111.3 L376.0 1111.3 L378.0 1111.3 L380.0 1111.2 L382.0 1111.2 L384.0 1111.2 L386.0 1111.2 L388.0 1111.2 L390.0 1111.2 L392.0 1111.1 L394.0 1111.1 L396.0 1111.1 L398.0 1111.0 L400.0 1111.0 L402.0 1111.0 L404.0 1110.9 L406.0 1110.9 L408.0 1110.8 L410.0 1110.8 L412.0 1110.7 L414.0 1110.6 L416.0 1110.6 L418.0 1110.5 L420.0 1110.4 L422.0 1110.4 L424.0 1110.3 L426.0 1110.2 L428.0 1110.1 L430.0 1110.0 L432.0 1109.9 L434.0 1109.8 L436.0 1109.6 L438.0 1109.5 L440.0 1109.4 L442.0 1109.3 L444.0 1109.1 L446.0 1109.0 L448.0 1108.8 L450.0 1108.6 L452.0 1108.4 L454.0 1108.2 L456.0 1108.0 L458.0 1107.7 L460.0 1107.5 L462.0 1107.2 L464.0 1106.9 L466.0 1106.6 L468.0 1106.3 L470.0 1105.9 L472.0 1105.6 L474.0 1105.2 L476.0 1104.9 L478.0 1104.4 L480.0 1104.0 L482.0 1103.6 L484.0 1103.1 L486.0 1102.6 L488.0 1102.1 L490.0 1101.6 L492.0 1101.2 L494.0 1100.6 L496.0 1100.1 L498.0 1099.5 L500.0 1099.0 L502.0 1098.4 L504.0 1097.7 L506.0 1097.1 L508.0 1096.4 L510.0 1095.7 L512.0 1095.0 L514.0 1094.3 L516.0 1093.5 L518.0 1092.7 L520.0 1091.9 L522.0 1091.0 L524.0 1090.1 L526.0 1089.1 L528.0 1088.1 L530.0 1087.1 L532.0 1086.1 L534.0 1085.0 L536.0 1083.9 L538.0 1082.7 L540.0 1081.5 L542.0 1080.2 L544.0 1078.9 L546.0 1077.6 L548.0 1076.2 L550.0 1074.8 L552.0 1073.2 L554.0 1071.7 L556.0 1070.1 L558.0 1068.5 L560.0 1066.8 L562.0 1065.0 L564.0 1063.2 L566.0 1061.3 L568.0 1059.4 L570.0 1057.3 L572.0 1055.3 L574.0 1053.2 L576.0 1051.1 L578.0 1048.9 L580.0 1046.6 L582.0 1044.3 L584.0 1041.9 L586.0 1039.4 L588.0 1036.8 L590.0 1034.2 L592.0 1031.6 L594.0 1028.9 L596.0 1026.0 L598.0 1023.1 L600.0 1020.1 L602.0 1017.1 L604.0 1013.9 L606.0 1010.6 L608.0 1007.3 L610.0 1003.8 L612.0 1000.2 L614.0 996.5 L616.0 992.7 L618.0 988.8 L620.0 984.8 L622.0 980.6 L624.0 976.4 L626.0 972.2 L628.0 967.8 L630.0 963.3 L632.0 958.8 L634.0 954.2 L636.0 949.5 L638.0 944.8 L640.0 939.9 L642.0 935.0 L644.0 930.1 L646.0 925.0 L648.0 919.9 L650.0 914.6 L652.0 909.3 L654.0 904.0 L656.0 898.6 L658.0 893.0 L660.0 887.4 L662.0 881.8 L664.0 876.0 L666.0 870.2 L668.0 864.2 L670.0 858.2 L672.0 852.2 L674.0 846.2 L676.0 840.1 L678.0 834.0 L680.0 827.9 L682.0 821.7 L684.0 815.4 L686.0 809.0 L688.0 802.5 L690.0 795.8 L692.0 789.1 L694.0 782.2 L696.0 775.0 L698.0 767.7 L700.0 760.2 L702.0 752.7 L704.0 745.0 L706.0 737.3 L708.0 729.6 L710.0 721.8 L712.0 714.0 L714.0 706.2 L716.0 698.3 L718.0 690.4 L720.0 682.5 L722.0 674.7 L724.0 667.0 L726.0 659.4 L728.0 651.8 L730.0 644.3 L732.0 637.0 L734.0 629.5 L736.0 622.0 L738.0 614.5 L740.0 607.0 L742.0 599.3 L744.0 591.6 L746.0 583.8 L748.0 576.0 L750.0 568.3 L752.0 560.5 L754.0 552.7 L756.0 544.9 L758.0 537.3 L760.0 529.7 L762.0 522.1 L764.0 514.5 L766.0 507.0 L768.0 499.6 L770.0 492.3 L772.0 485.1 L774.0 477.9 L776.0 470.8 L778.0 463.8 L780.0 456.7 L782.0 449.9 L784.0 443.1 L786.0 436.5 L788.0 429.9 L790.0 423.6 L792.0 417.4 L794.0 411.3 L796.0 405.4 L798.0 399.7 L800.0 394.1 L802.0 388.8 L804.0 383.7 L806.0 378.7 L808.0 373.8 L810.0 369.1 L812.0 364.5 L814.0 360.0 L816.0 354.5 L818.0 348.8 L820.0 347.0 L822.0 345.7 L824.0 344.4 L826.0 342.2 L828.0 335.6 L830.0 332.3 L832.0 329.5 L834.0 327.1 L836.0 324.8 L838.0 322.7 L840.0 321.0 L842.0 319.4 L844.0 318.0 L846.0 316.9 L848.0 316.0 L850.0 315.3 L852.0 314.9 L854.0 314.7 L856.0 314.6 L858.0 314.8 L860.0 315.2 L862.0 315.9 L864.0 316.8 L866.0 317.8 L868.0 319.2 L870.0 320.7 L872.0 322.4 L874.0 324.4 L876.0 326.5 L878.0 328.9 L880.0 331.5 L882.0 334.3 L884.0 337.2 L886.0 340.4 L888.0 343.7 L890.0 347.2 L892.0 350.9 L894.0 354.8 L896.0 358.9 L898.0 363.2 L900.0 367.7 L902.0 372.4 L904.0 377.4 L906.0 382.6 L908.0 387.9 L910.0 393.5 L912.0 399.3 L914.0 405.3 L916.0 411.5 L918.0 417.9 L920.0 424.4 L922.0 431.2 L924.0 438.1 L926.0 445.1 L928.0 452.3 L930.0 459.5 L932.0 466.9 L934.0 474.4 L936.0 481.9 L938.0 489.5 L940.0 497.2 L942.0 505.0 L944.0 512.9 L946.0 520.9 L948.0 529.0 L950.0 537.1 L952.0 545.3 L954.0 553.6 L956.0 561.9 L958.0 570.3 L960.0 578.8 L962.0 587.3 L964.0 595.8 L966.0 604.3 L968.0 612.9 L970.0 621.5 L972.0 630.0 L974.0 638.6 L976.0 647.2 L978.0 655.8 L980.0 664.4 L982.0 672.8 L984.0 681.1 L986.0 689.5 L988.0 697.7 L990.0 705.9 L992.0 714.0 L994.0 722.2 L996.0 730.3 L998.0 738.5 L1000.0 746.8 L1002.0 755.0 L1004.0 763.3 L1006.0 771.4 L1008.0 779.5 L1010.0 787.5 L1012.0 795.4 L1014.0 803.2 L1016.0 810.9 L1018.0 818.6 L1020.0 826.1 L1022.0 833.6 L1024.0 840.9 L1026.0 848.1 L1028.0 855.0 L1030.0 861.7 L1032.0 868.3 L1034.0 874.7 L1036.0 881.0 L1038.0 887.1 L1040.0 893.2 L1042.0 899.2 L1044.0 905.1 L1046.0 910.9 L1048.0 916.7 L1050.0 922.5 L1052.0 928.3 L1054.0 934.0 L1056.0 939.6 L1058.0 945.2 L1060.0 950.5 L1062.0 955.8 L1064.0 960.9 L1066.0 966.0 L1068.0 970.9 L1070.0 975.7 L1072.0 980.4 L1074.0 985.0 L1076.0 989.5 L1078.0 993.9 L1080.0 998.1 L1082.0 1002.3 L1084.0 1006.4 L1086.0 1010.4 L1088.0 1014.4 L1090.0 1018.3 L1092.0 1022.1 L1094.0 1025.8 L1096.0 1029.4 L1098.0 1032.9 L1100.0 1036.3 L1102.0 1039.6 L1104.0 1042.7 L1106.0 1045.8 L1108.0 1048.8 L1110.0 1051.5 L1112.0 1054.3 L1114.0 1056.8 L1116.0 1059.3 L1118.0 1061.6 L1120.0 1063.9 L1122.0 1066.1 L1124.0 1068.2 L1126.0 1070.3 L1128.0 1072.3 L1130.0 1074.1 L1132.0 1076.0 L1134.0 1077.7 L1136.0 1079.4 L1138.0 1081.0 L1140.0 1082.6 L1142.0 1084.1 L1144.0 1085.5 L1146.0 1086.9 L1148.0 1088.3 L1150.0 1089.6 L1152.0 1090.8 L1154.0 1092.0 L1156.0 1093.1 L1158.0 1094.2 L1160.0 1095.2 L1162.0 1096.2 L1164.0 1097.2 L1166.0 1098.1 L1168.0 1099.0 L1170.0 1099.9 L1172.0 1100.7 L1174.0 1101.5 L1176.0 1102.2 L1178.0 1103.0 L1180.0 1103.7 L1182.0 1104.2 L1184.0 1104.9 L1186.0 1105.5 L1188.0 1106.0 L1190.0 1106.6 L1192.0 1107.0 L1194.0 1107.5 L1196.0 1108.0 L1198.0 1108.5 L1200.0 1108.9 L1202.0 1109.3 L1204.0 1109.8 L1206.0 1110.1 L1208.0 1110.4 L1210.0 1110.8 L1212.0 1111.1 L1214.0 1111.4 L1216.0 1111.7 L1218.0 1112.0 L1220.0 1112.2 L1222.0 1112.5 L1224.0 1112.7 L1226.0 1112.9 L1228.0 1113.2 L1230.0 1113.4 L1232.0 1113.6 L1234.0 1113.8 L1236.0 1113.9 L1238.0 1114.1 L1240.0 1114.2 L1242.0 1114.3 L1244.0 1114.4 L1246.0 1114.4 L1248.0 1114.5 L1250.0 1114.6 L1252.0 1114.6 L1254.0 1114.7 L1256.0 1114.8 L1258.0 1114.8 L1260.0 1114.9 L1262.0 1114.9 L1264.0 1115.0 L1266.0 1115.0 L1268.0 1115.0 L1270.0 1115.1 L1272.0 1115.1 L1274.0 1115.2 L1276.0 1115.2 L1278.0 1115.2 L1280.0 1115.3 L1282.0 1115.3 L1284.0 1115.3 L1286.0 1115.4 L1288.0 1115.4 L1290.0 1115.4 L1292.0 1115.5 L1294.0 1115.5 L1296.0 1115.5 L1298.0 1115.6 L1300.0 1115.6 L1302.0 1115.6 L1304.0 1115.7 L1306.0 1115.7 L1308.0 1115.7 L1310.0 1115.8 L1312.0 1115.8 L1314.0 1115.8 L1316.0 1115.9 L1318.0 1115.9 L1320.0 1115.9 L1322.0 1115.9 L1324.0 1116.0 L1326.0 1116.0 L1328.0 1116.0"/>
<path stroke="#008080" d="M280.0 1108.8 L282.0 1108.6 L284.0 1108.5 L286.0 1108.4 L288.0 1108.3 L290.0 1108.2 L292.0 1108.1 L294.0 1108.0 L296.0 1107.9 L298.0 1107.8 L300.0 1107.6 L302.0 1107.5 L304.0 1107.4 L306.0 1107.3 L308.0 1107.2 L310.0 1107.1 L312.0 1107.0 L314.0 1106.9 L316.0 1106.8 L318.0 1106.7 L320.0 1106.6 L322.0 1106.5 L324.0 1106.4 L326.0 1106.3 L328.0 1106.2 L330.0 1106.1 L332.0 1105.9 L334.0 1105.8 L336.0 1105.7 L338.0 1105.6 L340.0 1105.5 L342.0 1105.3 L344.0 1105.2 L346.0 1105.1 L348.0 1105.0 L350.0 1104.8 L352.0 1104.7 L354.0 1104.6 L356.0 1104.4 L358.0 1104.3 L360.0 1104.1 L362.0 1104.0 L364.0 1103.8 L366.0 1103.6 L368.0 1103.5 L370.0 1103.3 L372.0 1103.1 L374.0 1102.9 L376.0 1102.8 L378.0 1102.6 L380.0 1102.4 L382.0 1102.2 L384.0 1102.0 L386.0 1101.7 L388.0 1101.5 L390.0 1101.3 L392.0 1101.1 L394.0 1100.8 L396.0 1100.6 L398.0 1100.3 L400.0 1100.0 L402.0 1099.8 L404.0 1099.5 L406.0 1099.2 L408.0 1098.9 L410.0 1098.6 L412.0 1098.3 L414.0 1098.0 L416.0 1097.6 L418.0 1097.3 L420.0 1096.9 L422.0 1096.6 L424.0 1096.2 L426.0 1095.8 L428.0 1095.4 L430.0 1095.0 L432.0 1094.6 L434.0 1094.1 L436.0 1093.7 L438.0 1093.2 L440.0 1092.7 L442.0 1092.2 L444.0 1091.7 L446.0 1091.2 L448.0 1090.7 L450.0 1090.1 L452.0 1089.5 L454.0 1088.9 L456.0 1088.3 L458.0 1087.7 L460.0 1087.1 L462.0 1086.4 L464.0 1085.7 L466.0 1085.0 L468.0 1084.3 L470.0 1083.6 L472.0 1082.8 L474.0 1082.0 L476.0 1081.2 L478.0 1080.4 L480.0 1079.5 L482.0 1078.6 L484.0 1077.7 L486.0 1076.8 L488.0 1075.8 L490.0 1074.8 L492.0 1073.8 L494.0 1072.8 L496.0 1071.7 L498.0 1070.6 L500.0 1069.5 L502.0 1068.3 L504.0 1067.1 L506.0 1065.9 L508.0 1064.6 L510.0 1063.3 L512.0 1062.0 L514.0 1060.6 L516.0 1059.2 L518.0 1057.7 L520.0 1056.2 L522.0 1054.7 L524.0 1053.1 L526.0 1051.4 L528.0 1049.8 L530.0 1048.1 L532.0 1046.4 L534.0 1044.5 L536.0 1042.7 L538.0 1040.8 L540.0 1038.8 L542.0 1036.8 L544.0 1034.7 L546.0 1032.6 L548.0 1030.5 L550.0 1028.3 L552.0 1026.0 L554.0 1023.7 L556.0 1021.3 L558.0 1018.9 L560.0 1016.3 L562.0 1013.8 L564.0 1011.2 L566.0 1008.6 L568.0 1005.9 L570.0 1003.1 L572.0 1000.3 L574.0 997.4 L576.0 994.5 L578.0 991.6 L580.0 988.5 L582.0 985.4 L584.0 982.2 L586.0 979.0 L588.0 975.8 L590.0 972.5 L592.0 969.0 L594.0 965.6 L596.0 962.0 L598.0 958.5 L600.0 954.8 L602.0 951.1 L604.0 947.3 L606.0 943.3 L608.0 939.4 L610.0 935.4 L612.0 931.2 L614.0 927.1 L616.0 922.8 L618.0 918.6 L620.0 914.2 L622.0 909.8 L624.0 905.2 L626.0 900.6 L628.0 895.9 L630.0 891.2 L632.0 886.3 L634.0 881.5 L636.0 876.6 L638.0 871.5 L640.0 866.4 L642.0 861.2 L644.0 856.0 L646.0 850.7 L648.0 845.3 L650.0 839.9 L652.0 834.4 L654.0 828.8 L656.0 823.1 L658.0 817.4 L660.0 811.7 L662.0 805.8 L664.0 799.9 L666.0 793.9 L668.0 787.9 L670.0 781.8 L672.0 775.7 L674.0 769.5 L676.0 763.2 L678.0 756.9 L680.0 750.5 L682.0 744.1 L684.0 737.6 L686.0 731.1 L688.0 724.5 L690.0 717.9 L692.0 711.3 L694.0 704.5 L696.0 697.8 L698.0 691.0 L700.0 684.2 L702.0 677.3 L704.0 670.5 L706.0 663.5 L708.0 656.5 L710.0 649.5 L712.0 642.5 L714.0 635.5 L716.0 628.4 L718.0 621.3 L720.0 614.2 L722.0 607.0 L724.0 599.9 L726.0 592.7 L728.0 585.6 L730.0 578.4 L732.0 571.2 L734.0 564.0 L736.0 556.9 L738.0 549.7 L740.0 542.5 L742.0 535.4 L744.0 528.2 L746.0 521.0 L748.0 513.9 L750.0 506.8 L752.0 499.7 L754.0 492.7 L756.0 485.7 L758.0 478.7 L760.0 471.8 L762.0 464.9 L764.0 458.0 L766.0 451.3 L768.0 444.5 L770.0 437.8 L772.0 431.2 L774.0 424.6 L776.0 418.1 L778.0 411.6 L780.0 405.3 L782.0 399.0 L784.0 392.8 L786.0 386.7 L788.0 380.7 L790.0 374.7 L792.0 368.9 L794.0 363.3 L796.0 357.5 L798.0 352.0 L800.0 346.6 L802.0 341.3 L804.0 336.1 L806.0 331.1 L808.0 326.1 L810.0 321.3 L812.0 316.6 L814.0 311.8 L816.0 307.2 L818.0 302.6 L820.0 298.1 L822.0 293.7 L824.0 289.4 L826.0 285.3 L828.0 281.3 L830.0 277.4 L832.0 273.7 L834.0 270.1 L836.0 266.6 L838.0 263.3 L840.0 260.2 L842.0 257.1 L844.0 254.2 L846.0 251.5 L848.0 248.8 L850.0 246.4 L852.0 244.0 L854.0 241.9 L856.0 239.9 L858.0 238.2 L860.0 236.5 L862.0 235.0 L864.0 233.8 L866.0 232.6 L868.0 231.8 L870.0 231.0 L872.0 230.5 L874.0 230.2 L876.0 230.0 L878.0 230.1 L880.0 230.3 L882.0 230.8 L884.0 231.4 L886.0 232.3 L888.0 233.3 L890.0 234.5 L892.0 235.9 L894.0 237.6 L896.0 239.4 L898.0 241.3 L900.0 243.5 L902.0 245.8 L904.0 248.3 L906.0 250.9 L908.0 253.7 L910.0 256.7 L912.0 259.7 L914.0 262.9 L916.0 266.3 L918.0 269.7 L920.0 273.1 L922.0 276.7 L924.0 280.4 L926.0 284.2 L928.0 288.2 L930.0 292.4 L932.0 296.8 L934.0 301.3 L936.0 306.1 L938.0 311.1 L940.0 316.2 L942.0 321.4 L944.0 326.7 L946.0 332.2 L948.0 337.8 L950.0 343.6 L952.0 349.4 L954.0 355.4 L956.0 361.5 L958.0 367.6 L960.0 373.9 L962.0 380.3 L964.0 386.8 L966.0 393.3 L968.0 399.8 L970.0 406.4 L972.0 413.1 L974.0 419.8 L976.0 426.6 L978.0 433.5 L980.0 440.3 L982.0 447.3 L984.0 454.4 L986.0 461.6 L988.0 468.9 L990.0 476.3 L992.0 483.8 L994.0 491.5 L996.0 499.6 L998.0 507.7 L1000.0 515.9 L1002.0 524.4 L1004.0 532.8 L1006.0 541.2 L1008.0 549.7 L1010.0 558.1 L1012.0 566.3 L1014.0 574.4 L1016.0 582.3 L1018.0 590.1 L1020.0 598.0 L1022.0 605.8 L1024.0 613.6 L1026.0 621.5 L1028.0 629.3 L1030.0 637.1 L1032.0 644.8 L1034.0 652.6 L1036.0 660.3 L1038.0 667.9 L1040.0 675.6 L1042.0 683.1 L1044.0 690.7 L1046.0 698.2 L1048.0 705.7 L1050.0 713.1 L1052.0 720.5 L1054.0 727.8 L1056.0 735.0 L1058.0 742.3 L1060.0 749.4 L1062.0 756.4 L1064.0 763.4 L1066.0 770.2 L1068.0 776.9 L1070.0 783.4 L1072.0 789.8 L1074.0 796.1 L1076.0 802.3 L1078.0 808.5 L1080.0 814.6 L1082.0 820.7 L1084.0 826.8 L1086.0 832.9 L1088.0 839.0 L1090.0 845.3 L1092.0 851.4 L1094.0 857.6 L1096.0 863.8 L1098.0 869.8 L1100.0 875.9 L1102.0 881.9 L1104.0 887.8 L1106.0 893.7 L1108.0 899.3 L1110.0 905.0 L1112.0 910.5 L1114.0 915.9 L1116.0 921.2 L1118.0 926.3 L1120.0 931.3 L1122.0 936.2 L1124.0 940.9 L1126.0 945.6 L1128.0 950.1 L1130.0 954.7 L1132.0 959.0 L1134.0 963.3 L1136.0 967.5 L1138.0 971.6 L1140.0 975.6 L1142.0 979.6 L1144.0 983.4 L1146.0 987.2 L1148.0 991.0 L1150.0 994.6 L1152.0 998.1 L1154.0 1001.6 L1156.0 1005.0 L1158.0 1008.4 L1160.0 1011.6 L1162.0 1014.9 L1164.0 1018.0 L1166.0 1021.0 L1168.0 1024.0 L1170.0 1026.9 L1172.0 1029.7 L1174.0 1032.5 L1176.0 1035.3 L1178.0 1037.8 L1180.0 1040.4 L1182.0 1042.8 L1184.0 1045.3 L1186.0 1047.6 L1188.0 1049.9 L1190.0 1052.2 L1192.0 1054.3 L1194.0 1056.3 L1196.0 1058.3 L1198.0 1060.3 L1200.0 1062.2 L1202.0 1064.0 L1204.0 1065.8 L1206.0 1067.6 L1208.0 1069.3 L1210.0 1071.0 L1212.0 1072.5 L1214.0 1074.1 L1216.0 1075.6 L1218.0 1077.0 L1220.0 1078.4 L1222.0 1079.9 L1224.0 1081.2 L1226.0 1082.4 L1228.0 1083.6 L1230.0 1084.9 L1232.0 1086.1 L1234.0 1087.2 L1236.0 1088.3 L1238.0 1089.3 L1240.0 1090.3 L1242.0 1091.3 L1244.0 1092.3 L1246.0 1093.2 L1248.0 1094.0 L1250.0 1094.9 L1252.0 1095.8 L1254.0 1096.6 L1256.0 1097.3 L1258.0 1098.1 L1260.0 1098.8 L1262.0 1099.5 L1264.0 1100.2 L1266.0 1100.8 L1268.0 1101.3 L1270.0 1101.8 L1272.0 1102.3 L1274.0 1102.8 L1276.0 1103.2 L1278.0 1103.6 L1280.0 1104.0 L1282.0 1104.4 L1284.0 1104.8 L1286.0 1105.2 L1288.0 1105.5 L1290.0 1105.9 L1292.0 1106.3 L1294.0 1106.7 L1296.0 1107.0 L1298.0 1107.5 L1300.0 1107.8 L1302.0 1108.2 L1304.0 1108.5 L1306.0 1108.8 L1308.0 1109.2 L1310.0 1109.4 L1312.0 1109.7 L1314.0 1109.9 L1316.0 1110.2 L1318.0 1110.4 L1320.0 1110.7 L1322.0 1110.8 L1324.0 1111.1 L1326.0 1111.3 L1328.0 1112.0"/>
</g>
<polyline points="814,1082 814.1,796.4 835.4,524 846,314.7 882.4,227.3" fill="none" stroke="#0000ff" stroke-width="5.8" stroke-linejoin="round"/>
<circle cx="814" cy="1082" r="12.2" fill="#fff" stroke="#0000ff" stroke-width="7"/>
<circle cx="814.1" cy="796.4" r="12.2" fill="#fff" stroke="#0000ff" stroke-width="7"/>
<circle cx="835.4" cy="524" r="12.2" fill="#fff" stroke="#0000ff" stroke-width="7"/>
<circle cx="846" cy="314.7" r="12.2" fill="#fff" stroke="#0000ff" stroke-width="7"/>
<circle cx="882.4" cy="227.3" r="12.2" fill="#fff" stroke="#0000ff" stroke-width="7"/>
<g fill="none" stroke-width="6.2" stroke-linecap="round">
<line x1="339.7" y1="267.8" x2="525.1" y2="267.8" stroke="#900000"/>
<line x1="339.7" y1="366.1" x2="525.1" y2="366.1" stroke="#ff8000"/>
<line x1="339.7" y1="464.8" x2="525.1" y2="464.8" stroke="#c0c000"/>
<line x1="339.7" y1="563.5" x2="525.1" y2="563.5" stroke="#008000"/>
<line x1="339.7" y1="662.1" x2="525.1" y2="662.1" stroke="#008080"/>
</g>
<g transform="translate(0,296.0) scale(1,1.025)"><text x="571.80" y="0"><tspan dx="2.2">1</tspan></text><rect x="578.03" y="-9.18" width="16.72" height="10.68" fill="#fff"/><rect x="602.04" y="-9.18" width="16.27" height="10.68" fill="#fff"/></g>
<g transform="translate(0,394.3) scale(1,1.025)"><text x="571.80" y="0"><tspan dx="2.2">1</tspan><tspan dx="-2.2">0</tspan></text><rect x="578.03" y="-9.18" width="16.72" height="10.68" fill="#fff"/><rect x="602.04" y="-9.18" width="16.27" height="10.68" fill="#fff"/></g>
<g transform="translate(0,493.0) scale(1,1.025)"><text x="571.80" y="0">20</text></g>
<g transform="translate(0,591.7) scale(1,1.025)"><text x="571.80" y="0">30</text></g>
<g transform="translate(0,690.3) scale(1,1.025)"><text x="571.80" y="0">40</text></g>
<g transform="translate(0,167.9) scale(1,1.04)"><text class="i" x="338.6" y="0">N</text></g>
<g transform="translate(0,193.8) scale(1,1.04)"><text class="s" x="397.6" y="0">MIBC</text></g>
<text x="966.2" y="183.9">No salt</text>
<g transform="translate(0,94.3) scale(1,1.025)"><text x="147.83" y="0">80</text></g>
<g transform="translate(0,356.2) scale(1,1.025)"><text x="147.83" y="0">60</text></g>
<g transform="translate(0,619.2) scale(1,1.025)"><text x="147.83" y="0">40</text></g>
<g transform="translate(0,882.2) scale(1,1.025)"><text x="147.83" y="0">20</text></g>
<g transform="translate(0,1144.3) scale(1,1.025)"><text x="193.72" y="0">0</text></g>
<g transform="translate(0,1231.7) scale(1,1.025)"><text x="208.22" y="0">-<tspan dx="2.2">1</tspan><tspan dx="-2.2">.</tspan>0</text><rect x="241.92" y="-9.18" width="16.72" height="10.68" fill="#fff"/><rect x="265.93" y="-9.18" width="16.27" height="10.68" fill="#fff"/></g>
<g transform="translate(0,1231.7) scale(1,1.025)"><text x="470.22" y="0">-0.5</text></g>
<g transform="translate(0,1231.7) scale(1,1.025)"><text x="747.16" y="0">0.0</text></g>
<g transform="translate(0,1231.7) scale(1,1.025)"><text x="1009.36" y="0">0.5</text></g>
<g transform="translate(0,1231.7) scale(1,1.025)"><text x="1271.16" y="0"><tspan dx="2.2">1</tspan><tspan dx="-2.2">.</tspan>0</text><rect x="1277.39" y="-9.18" width="16.72" height="10.68" fill="#fff"/><rect x="1301.39" y="-9.18" width="16.27" height="10.68" fill="#fff"/></g>
<text y="1361.8"><tspan class="i" x="694.2">z</tspan> <tspan x="755.5">[nm</tspan><tspan x="895.4">]</tspan></text>
<g transform="translate(95.1,0) rotate(-90)">
<text y="0"><tspan class="i" x="-900">z</tspan><tspan x="-858.3" style="letter-spacing:-0.2px">-Den<tspan dx="1.8">sit</tspan><tspan dx="-1.8">y</tspan></tspan> <tspan x="-541.3">[<tspan dx="2.2">1</tspan><tspan dx="-2.2">/nm</tspan></tspan><tspan class="s" x="-335" y="-42.8">3</tspan><tspan x="-302.6" y="0">]</tspan></text>
<rect x="-512.15" y="-9.18" width="16.72" height="10.68" fill="#fff"/><rect x="-488.14" y="-9.18" width="16.27" height="10.68" fill="#fff"/>
</g>
</svg></body></html>
